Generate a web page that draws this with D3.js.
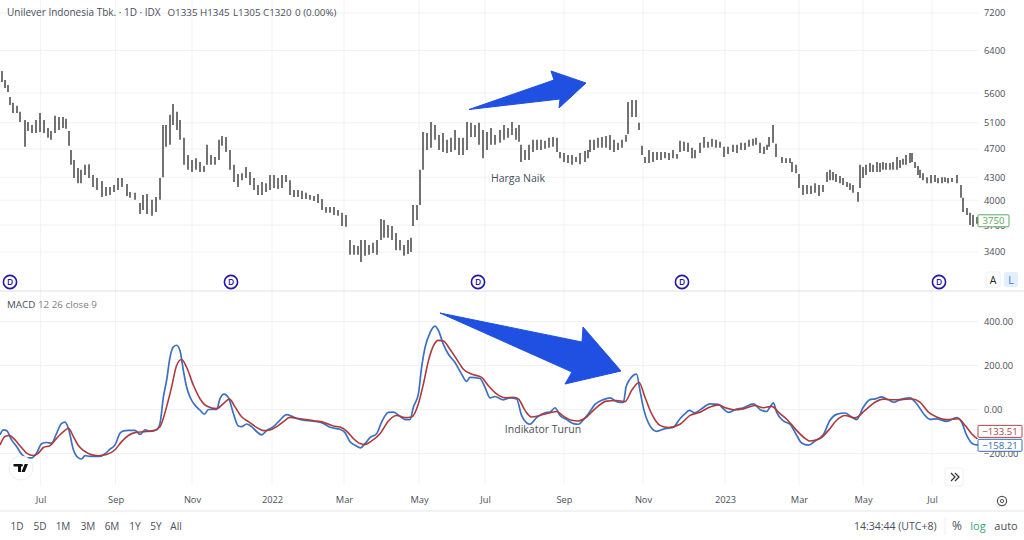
<!DOCTYPE html>
<html><head><meta charset="utf-8">
<script src="https://cdn.jsdelivr.net/npm/d3@7"></script>
<style>html,body{margin:0;padding:0;background:#fff}svg{display:block}text{font-family:"Open Sans",sans-serif}</style>
</head><body><svg id="c" width="1024" height="540"></svg>
<script>
// trading-time position, high and low of every price bar
const barT=[1,2.5,4,5,6.5,8.5,10,12.5,14,16,18,20,22,24,25.5,27.5,29.5,31.5,33,34.5,35.5,37,39,40.5,42.5,44.5,46.5,48.5,51,53,55,57,59,61,63.5,65,67.5,70,71.5,73.5,76,78,80,81.5,83,85,86.5,88.5,90,92,94,96,98,100,102,103.5,105.5,107.5,109.5,111,113,115,117,119,121,123,125,127,129,131,133,135,137,139,141,143,145,147,149,151,153,155,157,159,161,163,165,167,169,171,173,175,177,179,180.5,182.5,184.5,186.5,188.5,190.5,192,194,196,198,200,202,204,205.5,206.5,208.5,210,211.5,213.5,215.5,217.5,219.5,221.5,223.5,225.5,227.5,229.5,231.5,233.5,235.5,237.5,239.5,241.5,243.5,245.5,247.5,250,252,254,256,258,259.5,260.5,262.5,264.5,266.5,268.5,270.5,272.5,274.5,276.5,278.5,280,282,284,286,288,290,292.5,294,295,297,299,301,303,305,307,309,311,313,314,316,318,319.5,321,322.5,324.5,326.5,328.5,330.5,332.5,334.5,336.5,338.5,340,342,344,346,347.5,350,352,354,356,358,360,362,364,366.5,368.5,370.5,372.5,374.5,376.5,378,380,382,383.5,384.5,386.5,388,391,393,395,396,398,399.5,401.5,403.5,405.5,407.5,409.5,411.5,413.5,415,416.5,418,420,421.5,423.5,425,426.5,429,430,431.5,433,435,436.5,438.5,440,441.5,443,445,446.5,448.5,450,451.5,453,455,456,457.5,459,460,461.5,463.5,465.5,467.5,469,471,472.5,474,476,478.5,480.5,481.5,483.5,485,486.5,488.5];
const barHigh=[6000,5835,5745,5530,5430,5380,5280,5145,5115,5065,5145,5260,5145,5020,4970,5215,5195,5195,5165,4970,4685,4540,4425,4400,4470,4480,4330,4290,4250,4170,4170,4195,4290,4290,4210,4105,4095,3965,4065,4080,4005,4040,4290,5065,5065,5230,5410,5280,5145,4865,4610,4540,4565,4510,4455,4760,4610,4580,4835,4895,4880,4685,4470,4345,4355,4440,4370,4290,4195,4235,4220,4330,4330,4290,4330,4330,4260,4130,4130,4120,4095,4065,4055,4080,4015,3915,3915,3915,3880,3845,3820,3530,3475,3465,3530,3530,3475,3500,3530,3770,3760,3700,3690,3610,3530,3475,3530,3555,3940,3940,4400,4955,4940,5115,5065,4910,4940,4835,4865,4985,4865,4865,5115,5100,5065,5100,4985,4955,5020,4910,4985,5065,5020,5115,5020,5065,4760,4685,4760,4835,4835,4835,4820,4865,4880,4865,4655,4640,4610,4610,4580,4640,4670,4685,4835,4835,4865,4880,4895,4910,4835,4790,4835,4910,5445,5480,5480,5100,4745,4580,4685,4655,4655,4655,4655,4640,4685,4625,4820,4805,4790,4715,4685,4790,4880,4805,4850,4835,4805,4730,4730,4760,4760,4790,4790,4835,4850,4865,4790,4730,4760,4880,5065,4775,4580,4565,4565,4510,4470,4345,4195,4195,4185,4220,4195,4195,4370,4400,4370,4345,4315,4290,4235,4220,4195,4105,4470,4440,4470,4495,4470,4510,4495,4510,4495,4495,4510,4580,4540,4555,4610,4640,4640,4510,4455,4400,4355,4300,4330,4330,4290,4300,4300,4290,4290,4330,4195,4030,3905,3845,3820,3795];
const barLow=[5800,5690,5620,5395,5260,5260,5115,4730,4970,4940,4940,4955,4940,4865,4835,4940,4985,5020,5005,4745,4470,4290,4220,4220,4330,4290,4170,4130,4040,4055,4065,4105,4130,4170,4055,4030,4005,3830,3880,3830,3810,3855,4005,4300,4730,4760,5065,4985,4835,4470,4400,4370,4400,4370,4370,4470,4470,4470,4540,4745,4655,4400,4235,4170,4260,4290,4195,4130,4065,4065,4105,4130,4155,4145,4155,4235,4065,4040,4040,4015,4015,4005,3990,3965,3880,3845,3845,3820,3810,3690,3680,3370,3370,3370,3295,3360,3370,3390,3370,3530,3555,3555,3530,3420,3420,3360,3380,3400,3690,3760,3940,4400,4685,4715,4835,4685,4655,4640,4655,4685,4610,4610,4685,4880,4880,4760,4565,4685,4760,4760,4790,4835,4865,4910,4835,4805,4510,4540,4540,4655,4685,4685,4700,4715,4730,4655,4565,4510,4495,4470,4510,4480,4510,4565,4655,4685,4715,4715,4715,4685,4655,4685,4715,4805,4925,5195,5195,4985,4610,4495,4495,4510,4540,4540,4565,4540,4565,4555,4655,4670,4655,4565,4565,4640,4715,4715,4730,4715,4715,4580,4625,4655,4640,4685,4685,4730,4745,4760,4640,4625,4685,4730,4790,4580,4495,4495,4495,4370,4355,4155,4065,4080,4080,4095,4055,4105,4235,4260,4260,4235,4220,4195,4170,4130,4095,3980,4155,4290,4330,4370,4370,4370,4370,4400,4400,4400,4400,4400,4425,4470,4470,4495,4510,4425,4330,4290,4260,4220,4220,4235,4220,4220,4235,4220,4235,4220,4030,3855,3820,3700,3680,3715];

// MACD line
const macdT=[0,1.7,3.3,5.8,8.3,10.8,13.3,15.8,18.3,20.8,23.3,25.8,28.3,30.8,32.5,34.2,36.7,39.2,40.8,42.5,45,47.5,50,52.5,55,57.5,60,61.7,64.2,67.5,70,72.5,75,78.3,80,81.7,83.3,85,86.7,88.3,90,91.7,93.3,95,97.5,100,102.2,104.2,108.3,110,112,114.2,116.7,119.2,120.8,123.3,125.8,128.3,130.8,133.3,136.7,140,143.3,145.8,148.3,151.7,156.7,161.7,165,170,172.5,175,177.5,180.3,182.5,185,188.3,190.8,194.2,196.7,200,202.5,205,206.7,209.2,210.8,212.5,215,217.5,219.2,221.7,224.2,227.5,230.8,233.3,235,240,242.5,245,247.5,251.7,255,258.3,260.8,263.3,265,268.3,272.5,275,277.5,280,283.3,286.7,289.2,291.7,294.2,297.5,301.7,305,308.3,311.7,313,315,318.3,320,322,324.2,328.3,332.5,336.7,340,342.5,344.7,347.5,350.8,355,359.2,361.7,364.2,367.5,371.7,376.7,380,383.3,385,386.7,388.3,391.7,395,398.3,400.8,404.2,407.5,411.7,415,418.3,422.5,425.8,428.3,431.7,435,437.5,440.8,444.2,447,450,455,458.3,462.5,465,468.3,473.3,478.3,480.8,483.3,486.7,489.2];
const macdV=[-115,-93,-96,-138,-168,-203,-220,-220,-198,-156,-150,-153,-108,-63,-57,-85,-183,-220,-225,-210,-213,-213,-213,-201,-180,-161,-108,-97,-95,-95,-113,-93,-99,-93,-63,57,132,237,285,292,267,177,102,57,19,-3,-21,0,0,49,70,54,-18,-75,-78,-66,-78,-100,-115,-96,-78,-48,-23,-30,-41,-48,-53,-63,-81,-90,-105,-147,-162,-174,-155,-128,-110,-57,-13,-12,-31,-46,-46,11,71,191,281,349,379,359,296,251,214,161,128,146,141,101,53,59,44,53,48,-27,-61,-67,-37,-15,-12,8,-27,-46,-64,-67,-46,-19,23,45,53,36,32,101,138,161,86,-4,-61,-99,-87,-80,-42,-19,-4,-15,3,26,23,3,-13,-1,8,26,0,-9,11,30,-12,-52,-67,-117,-152,-162,-143,-114,-49,-22,-16,-34,-46,11,45,48,57,44,33,45,53,26,-27,-45,-43,-54,-37,-57,-117,-158,-162];
// Signal line
const signalT=[0,2.5,4.7,7.5,10,13.3,16.7,19.2,21.7,25,28.3,31.7,34.2,36.7,39.2,41.7,45,49.2,53.3,57.5,60.8,64.2,67.5,71.7,76.7,80,83.3,85.8,88.3,90.8,93.3,96.7,100,103.3,108.3,111.7,114.7,117.5,120.8,124.2,128.3,131.7,135,138.3,141.7,145,150,156.7,161.7,166.7,170,173.3,176.7,180,182.5,185.8,190,194.2,198.3,202.5,205.8,209.2,211.7,214.2,216.7,219.2,221.7,225,228.3,231.7,235.8,240.8,244.2,248.3,252.5,256.7,259.2,262.5,265.8,270,275,278.3,281.7,285.8,289.2,293.3,297.5,303.3,308.3,312.5,315.8,319.5,322.5,325.8,330,334.2,340,345,350,355,359.2,362.5,366.7,371.7,377.5,381.7,385.8,390,394.2,397.5,401.7,405,410,414.2,418.3,422.5,427.5,432.5,437.5,441.7,446.7,450.8,455.8,460,464.2,468.3,473.3,479.2,482.5,485.8,488.7];
const signalV=[-161,-123,-118,-138,-165,-198,-209,-198,-173,-164,-131,-101,-85,-123,-164,-186,-203,-210,-205,-183,-146,-118,-105,-101,-96,-78,12,102,200,227,192,110,49,16,4,27,47,12,-33,-55,-81,-96,-93,-78,-55,-36,-42,-51,-58,-75,-80,-98,-132,-155,-159,-143,-110,-52,-27,-37,-34,26,116,221,289,314,311,274,229,183,161,146,108,71,53,56,48,-4,-34,-27,-15,-9,-30,-49,-52,-34,3,38,41,36,86,123,56,-19,-72,-82,-67,-27,-12,11,21,8,-1,3,18,8,14,-19,-52,-87,-125,-143,-132,-95,-49,-27,-38,-4,33,47,44,45,48,33,-12,-34,-46,-42,-72,-110,-134];

const priceTicks=[7200,6400,5600,5100,4700,4300,4000,3700,3400];
const macdTicks=[400,200,0,-200];
const timeTickT=[20.3,57.8,96,136,172,209.5,242.5,282,321.5,362.5,399.5,431.5,466];
const timeTickLabels=["Jul","Sep","Nov","2022","Mar","May","Jul","Sep","Nov","2023","Mar","May","Jul"];
const dividendT=[5,115.5,239,341,469.5];
const rangeLabels=["1D","5D","1M","3M","6M","1Y","5Y","All"];
const ohlcLabels=["O1335","H1345","L1305","C1320","0 (0.00%)"];
const lastPrice=3750, lastMacd=-158.21, lastSignal=-133.51;

const svg=d3.select("#c");
const x=d3.scaleLinear().domain([0,493]).range([0,986]);
const yP=d3.scaleLog().domain([7200,3400]).range([13,252]);
const yM=d3.scaleLinear().domain([400,-200]).range([321.5,453.5]);
const GRID="#f1f2f5", TXT="#4a4e59";

// grids
const grid=svg.append("g").attr("stroke",GRID).attr("stroke-width",1);
grid.selectAll(".v").data(timeTickT).join("line").attr("x1",d=>x(d)).attr("x2",d=>x(d)).attr("y1",0).attr("y2",485);
grid.selectAll(".h").data(priceTicks).join("line").attr("x1",0).attr("x2",978).attr("y1",d=>yP(d)).attr("y2",d=>yP(d));
grid.selectAll(".m").data(macdTicks).join("line").attr("x1",0).attr("x2",978).attr("y1",d=>yM(d)).attr("y2",d=>yM(d));

// dividers
[[0,1024,291,291,"#dfe1e6"],[0,1024,511,511,"#e4e6ea"],[945,945,517,535,"#eceef1"]].forEach(l=>
  svg.append("line").attr("x1",l[0]).attr("x2",l[1]).attr("y1",l[2]).attr("y2",l[3]).attr("stroke",l[4]));

// price bars
svg.append("g").selectAll("line").data(barT).join("line")
  .attr("x1",d=>x(d)).attr("x2",d=>x(d))
  .attr("y1",(d,i)=>yP(barHigh[i])).attr("y2",(d,i)=>yP(barLow[i]))
  .attr("stroke","#444").attr("stroke-width",1.5);

// macd lines
const pts=(t,v)=>t.map((d,i)=>[d,v[i]]);
const line=d3.line().x(d=>x(d[0])).y(d=>yM(d[1])).curve(d3.curveMonotoneX);
svg.append("path").attr("d",line(pts(macdT,macdV))).attr("fill","none").attr("stroke","#3c70c0").attr("stroke-width",1.7);
svg.append("path").attr("d",line(pts(signalT,signalV))).attr("fill","none").attr("stroke","#ad3a3c").attr("stroke-width",1.6);

// axes
function clean(g){g.select(".domain").remove();g.selectAll(".tick line").remove();
  g.selectAll("text").attr("fill",TXT).style("font-size","9.3px").style("font-family",'"Open Sans",sans-serif');}
svg.append("g").attr("transform","translate(984,0)").call(d3.axisRight(yP).tickValues(priceTicks).tickFormat(d3.format("d")).tickSize(0).tickPadding(0)).call(clean);
svg.append("g").attr("transform","translate(984,0)").call(d3.axisRight(yM).tickValues(macdTicks).tickFormat(d=>d3.format(".2f")(d).replace("-","\u2212")).tickSize(0).tickPadding(0)).call(clean);
svg.append("g").attr("transform","translate(0,490)").call(d3.axisBottom(x).tickValues(timeTickT).tickFormat((d,i)=>timeTickLabels[i]).tickSize(0).tickPadding(6)).call(clean);

// texts
const t=(s,xx,yy,o={})=>svg.append("text").attr("x",xx).attr("y",yy).attr("text-anchor",o.a||"start").attr("fill",o.c||TXT).style("font-size",(o.s||11)+"px").text(s);
t("Unilever Indonesia Tbk. · 1D · IDX",7,16,{s:10});
const ohlcX=[167.5,200,233,263,295];
ohlcLabels.forEach((s,i)=>t(s,ohlcX[i],16,{s:9.8}));
t("MACD",7,308,{s:9.8});
t("12 26 close 9",38,308,{s:9.8,c:"#7b7f8a"});
t("Harga Naik",518,182,{a:"middle",s:10.5});
t("Indikator Turun",543,433,{a:"middle",s:10.5});

// dividends
const dv=svg.append("g").selectAll("g").data(dividendT).join("g").attr("transform",d=>`translate(${x(d)},282)`);
dv.append("circle").attr("r",6.6).attr("fill","#fff").attr("stroke","#2216ad").attr("stroke-width",1.6);
dv.append("text").attr("text-anchor","middle").attr("y",3).attr("fill","#2216ad").style("font-size","8.5px").style("font-weight",600).text("D");

// price-scale buttons
svg.append("rect").attr("x",986).attr("y",272).attr("width",14).attr("height",15).attr("rx",2).attr("fill","#fff").attr("stroke","#eceef1");
t("A",993,284,{a:"middle",c:"#222",s:10.5});
svg.append("rect").attr("x",1004).attr("y",272).attr("width",14).attr("height",15).attr("rx",2).attr("fill","#e3effd");
t("L",1011,284,{a:"middle",c:"#2e7bd6",s:10.5});

// value labels
function tag(cy,col,str,w){
  svg.append("rect").attr("x",978).attr("y",cy-6).attr("width",w).attr("height",12).attr("rx",1).attr("fill","#fff").attr("stroke",col);
  svg.append("text").attr("x",978+w/2).attr("y",cy+3.5).attr("text-anchor","middle").attr("fill",col).style("font-size","9.6px").text(str);
}
tag(yP(lastPrice),"#5aa85e",String(lastPrice),31);
tag(yM(lastSignal)-7.5,"#a8474a","\u2212133.51",44);
tag(yM(lastMacd)+1,"#3c6cae","\u2212158.21",44);

// range row
const rx=[17,40,63,88,112,135,156,176];
rangeLabels.forEach((s,i)=>t(s,rx[i],530,{a:"middle",s:10}));
t("14:34:44 (UTC+8)",854,530,{s:10.5});
t("%",957,530,{a:"middle",s:12});
t("log",978,530,{a:"middle",s:11,c:"#3aa37a"});
t("auto",1006,530,{a:"middle",s:11});

// arrows
const arrow=d3.line();
svg.append("path").attr("d",arrow([[469,109.5],[554,80],[551,71],[586,83],[559,108],[560,99]])+"Z").attr("fill","#1f50e2").attr("stroke","#1f50e2").attr("stroke-linejoin","round");
svg.append("path").attr("d",arrow([[440,313],[582,342],[583,327],[621,371],[565,384],[572,372]])+"Z").attr("fill","#1f50e2").attr("stroke","#1f50e2").attr("stroke-linejoin","round");

// logo
svg.append("circle").attr("cx",21).attr("cy",468).attr("r",12).attr("fill","#fff").attr("stroke","#eceef1");
svg.append("path").attr("d","M13.5 464h7.5v8h-3v-5.5h-4.500zM21.500 472l3.200-8h3.300l-3.200 8z").attr("fill","#111");
svg.append("circle").attr("cx",21.500).attr("cy",465.300).attr("r",1.3).attr("fill","#111");

// scroll button + gear
svg.append("rect").attr("x",945).attr("y",468).attr("width",18).attr("height",18).attr("rx",2).attr("fill","#fff").attr("stroke","#eef0f3");
svg.append("path").attr("d","M951 473l4 4-4 4M955 473l4 4-4 4").attr("fill","none").attr("stroke","#333").attr("stroke-width",1.2);
svg.append("circle").attr("cx",1002).attr("cy",501).attr("r",4.6).attr("fill","none").attr("stroke","#555").attr("stroke-width",1.2);
svg.append("circle").attr("cx",1002).attr("cy",501).attr("r",1.6).attr("fill","none").attr("stroke","#555").attr("stroke-width",1);
</script></body></html>
